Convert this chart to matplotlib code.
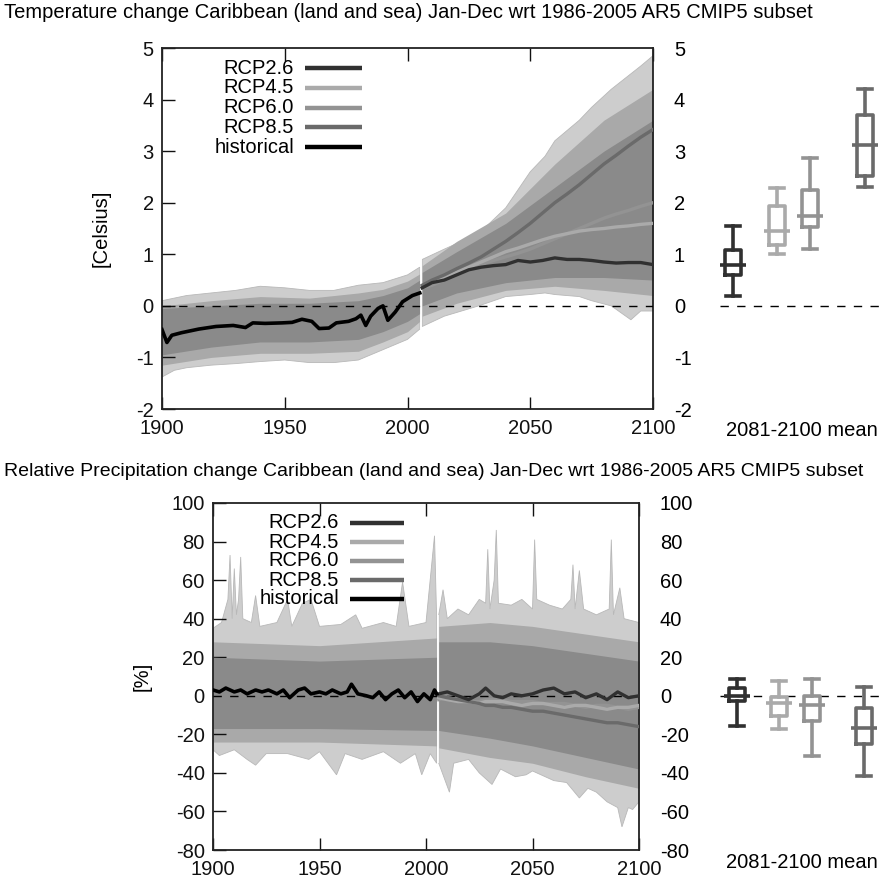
import numpy as np
import matplotlib
matplotlib.use("Agg")
import matplotlib.pyplot as plt
from matplotlib.lines import Line2D

plt.rcParams['font.family'] = ['Liberation Sans', 'DejaVu Sans']
plt.rcParams['font.size'] = 14.5
plt.rcParams['axes.unicode_minus'] = False

# ---------------- DATA ----------------
scenarios = ["RCP2.6", "RCP4.5", "RCP6.0", "RCP8.5"]
legend_labels = ["RCP2.6", "RCP4.5", "RCP6.0", "RCP8.5", "historical"]
xticks = [1900, 1950, 2000, 2050, 2100]
t_yticks = [-2, -1, 0, 1, 2, 3, 4, 5]
p_yticks = [-80, -60, -40, -20, 0, 20, 40, 60, 80, 100]

# Temperature: historical multi-model mean
T_hist_years = [1900, 1902, 1904, 1908, 1915, 1922, 1929, 1934, 1937, 1942, 1949, 1953,
                1957, 1961, 1964, 1968, 1971, 1976, 1979, 1981, 1983, 1985, 1988, 1990,
                1992, 1995, 1998, 2002, 2005]
T_hist_mean = [-0.46, -0.71, -0.57, -0.52, -0.45, -0.40, -0.38, -0.42, -0.33, -0.34, -0.33, -0.32,
               -0.26, -0.30, -0.44, -0.43, -0.33, -0.30, -0.25, -0.18, -0.38, -0.20, -0.05, 0.00,
               -0.28, -0.12, 0.08, 0.20, 0.25]
# Temperature: scenario means
T_fut_years = [2006, 2010, 2015, 2020, 2025, 2030, 2035, 2040, 2045, 2050, 2055, 2060,
               2065, 2070, 2075, 2080, 2085, 2090, 2095, 2100]
T_rcp26 = [0.35, 0.45, 0.50, 0.60, 0.70, 0.75, 0.78, 0.80, 0.88, 0.85, 0.88, 0.93,
           0.90, 0.90, 0.88, 0.85, 0.83, 0.84, 0.84, 0.80]
T_rcp45 = [0.38, 0.45, 0.55, 0.65, 0.75, 0.85, 0.95, 1.05, 1.12, 1.20, 1.28, 1.35,
           1.40, 1.45, 1.48, 1.50, 1.53, 1.55, 1.58, 1.60]
T_rcp60 = [0.35, 0.40, 0.50, 0.60, 0.70, 0.80, 0.88, 0.95, 1.02, 1.10, 1.20, 1.30,
           1.40, 1.50, 1.60, 1.70, 1.78, 1.85, 1.93, 2.00]
T_rcp85 = [0.40, 0.50, 0.60, 0.72, 0.83, 0.95, 1.10, 1.25, 1.42, 1.60, 1.80, 2.00,
           2.17, 2.35, 2.55, 2.75, 2.92, 3.10, 3.27, 3.42]
# Temperature: ensemble envelope (outer), middle and dense core
T_env_h_years = [1900, 1905, 1910, 1920, 1930, 1940, 1950, 1960, 1970, 1980, 1990, 2000, 2005]
T_env_h_lo = [-1.38, -1.25, -1.20, -1.15, -1.12, -1.08, -1.05, -1.10, -1.10, -1.05, -0.85, -0.65, -0.45]
T_env_h_hi = [0.10, 0.15, 0.20, 0.25, 0.30, 0.38, 0.35, 0.30, 0.30, 0.40, 0.45, 0.60, 0.75]
T_env_f_years = [2006, 2015, 2029, 2040, 2050, 2056, 2060, 2070, 2075, 2083, 2091, 2095, 2100]
T_env_f_lo = [-0.40, -0.20, 0.00, 0.18, 0.22, 0.25, 0.22, 0.18, 0.10, 0.00, -0.27, -0.10, -0.10]
T_env_f_hi = [0.90, 1.10, 1.40, 1.90, 2.60, 2.90, 3.20, 3.60, 3.85, 4.20, 4.50, 4.65, 4.85]
T_mid_h_years = [1900, 1920, 1940, 1960, 1980, 1990, 2000, 2005]
T_mid_h_lo = [-1.15, -1.00, -0.92, -0.92, -0.88, -0.70, -0.50, -0.30]
T_mid_h_hi = [0.00, 0.10, 0.18, 0.15, 0.25, 0.32, 0.48, 0.62]
T_mid_f_years = [2006, 2020, 2040, 2060, 2080, 2100]
T_mid_f_lo = [-0.20, 0.05, 0.30, 0.38, 0.30, 0.20]
T_mid_f_hi = [0.78, 1.25, 1.80, 2.75, 3.60, 4.20]
T_core_h_years = [1900, 1920, 1940, 1960, 1980, 1990, 2000, 2005]
T_core_h_lo = [-0.95, -0.80, -0.70, -0.70, -0.65, -0.50, -0.30, -0.15]
T_core_h_hi = [-0.05, 0.00, 0.05, 0.05, 0.10, 0.20, 0.35, 0.50]
T_core_f_years = [2006, 2020, 2040, 2060, 2080, 2100]
T_core_f_lo = [0.00, 0.25, 0.45, 0.55, 0.55, 0.50]
T_core_f_hi = [0.65, 1.05, 1.60, 2.30, 3.00, 3.60]

# Temperature 2081-2100 box stats per scenario
T_whislo = [0.20, 1.00, 1.10, 2.31]
T_q1 = [0.60, 1.18, 1.53, 2.51]
T_med = [0.80, 1.45, 1.75, 3.12]
T_q3 = [1.08, 1.94, 2.25, 3.70]
T_whishi = [1.55, 2.29, 2.86, 4.20]

# Precipitation: historical mean
P_hist_years = [1900, 1903, 1906, 1910, 1913, 1916, 1920, 1923, 1926, 1930, 1933, 1936, 1940,
                1943, 1946, 1950, 1953, 1956, 1960, 1963, 1965, 1968, 1972, 1975, 1978, 1981,
                1984, 1987, 1990, 1993, 1996, 1999, 2002, 2004, 2005]
P_hist_mean = [3, 2, 4, 2, 3, 1, 3, 2, 3, 1, 3, -1, 3,
               4, 1, 2, 1, 3, 1, 2, 6, 1, 0, -1, 2, -2,
               1, 3, -1, 2, -3, 1, -2, 3, 1]
P_fut_years = [2006, 2010, 2015, 2020, 2025, 2028, 2032, 2036, 2040, 2045, 2050, 2055, 2060,
               2065, 2070, 2075, 2080, 2085, 2090, 2095, 2100]
P_rcp26 = [1, 2, 0, -2, 1, 4, 0, -1, 1, 0, 1, 3, 4, 1, 2, -1, 1, -2, 2, -1, 0]
P_rcp45 = [-1, -2, -3, -3, -4, -3, -3, -3, -4, -5, -4, -4, -5, -6, -5, -5, -6, -7, -6, -6, -5]
P_rcp60 = [-2, -1, -2, -3, -3, -2, -2, -2, -3, -3, -3, -4, -4, -4, -5, -6, -5, -5, -6, -7, -6]
P_rcp85 = [0, -1, -2, -3, -4, -5, -5, -6, -6, -7, -8, -8, -9, -10, -11, -12, -13, -14, -14, -15, -16]
# Precipitation: ensemble envelope with visible spikes
P_env_h_hi_years = [1900, 1904, 1907, 1908, 1909, 1910, 1911, 1912, 1913, 1914, 1918, 1920, 1922,
                    1930, 1935, 1937, 1942, 1946, 1950, 1960, 1967, 1970, 1980, 1986, 1989,
                    1992, 2000, 2004, 2005]
P_env_h_hi = [35, 38, 50, 73, 40, 66, 42, 50, 72, 40, 38, 52, 36,
              38, 50, 36, 48, 50, 36, 37, 42, 35, 38, 36, 59,
              36, 38, 83, 40]
P_env_h_lo_years = [1900, 1903, 1910, 1916, 1920, 1925, 1935, 1945, 1950, 1958, 1962, 1970,
                    1980, 1988, 1995, 1998, 2002, 2005]
P_env_h_lo = [-28, -31, -28, -33, -36, -30, -30, -33, -29, -41, -30, -33,
              -29, -35, -30, -41, -30, -35]
P_env_f_hi_years = [2006, 2008, 2010, 2015, 2020, 2025, 2028, 2029, 2030, 2032, 2033, 2034, 2040,
                    2045, 2050, 2051, 2052, 2058, 2064, 2068, 2069, 2070, 2072, 2074, 2080,
                    2086, 2087, 2088, 2091, 2093, 2100]
P_env_f_hi = [42, 55, 40, 45, 42, 50, 48, 76, 45, 60, 86, 48, 47,
              50, 45, 81, 50, 47, 45, 50, 68, 45, 65, 45, 42,
              45, 81, 42, 56, 40, 38]
P_env_f_lo_years = [2006, 2011, 2013, 2020, 2025, 2031, 2035, 2042, 2047, 2050, 2060, 2066,
                    2072, 2076, 2080, 2085, 2090, 2092, 2095, 2097, 2100]
P_env_f_lo = [-35, -50, -35, -33, -40, -46, -38, -42, -41, -39, -44, -45,
              -53, -48, -50, -55, -58, -68, -58, -59, -55]
P_mid_h_years = [1900, 1950, 2005]
P_mid_h_lo = [-24, -24, -26]
P_mid_h_hi = [28, 26, 30]
P_mid_f_years = [2006, 2030, 2050, 2075, 2100]
P_mid_f_lo = [-27, -32, -35, -42, -48]
P_mid_f_hi = [36, 38, 36, 32, 28]
P_core_h_years = [1900, 1950, 2005]
P_core_h_lo = [-17, -17, -18]
P_core_h_hi = [20, 18, 20]
P_core_f_years = [2006, 2030, 2050, 2075, 2100]
P_core_f_lo = [-18, -22, -26, -32, -38]
P_core_f_hi = [28, 28, 26, 22, 18]

# Precipitation 2081-2100 box stats per scenario
P_whislo = [-15.5, -17.0, -31.0, -41.5]
P_q1 = [-2.6, -10.4, -13.0, -24.9]
P_med = [0.0, -4.0, -4.7, -16.6]
P_q3 = [4.0, -0.5, 0.0, -6.2]
P_whishi = [8.8, 7.8, 8.8, 4.7]

titles = ["Temperature change Caribbean (land and sea) Jan-Dec wrt 1986-2005 AR5 CMIP5 subset",
          "Relative Precipitation change Caribbean (land and sea) Jan-Dec wrt 1986-2005 AR5 CMIP5 subset"]
box_label = "2081-2100 mean"

# ---------------- STYLE ----------------
colors = {"RCP2.6": "#303030", "RCP4.5": "#aaaaaa", "RCP6.0": "#939393", "RCP8.5": "#6a6a6a",
          "historical": "#000000"}
outer_c = "#cdcdcd"
mid_c = "#a9a9a9"
core_c = "#8a8a8a"
FS = 14.5
W, H = 881, 882

fig = plt.figure(figsize=(W / 100, H / 100), dpi=100)


def fx(px):
    return px / W


def fy(py):
    return 1 - py / H


def make_main(l, r, t, b, ylim, yticks, pad_l, pad_r):
    ax = fig.add_axes([fx(l), fy(b), fx(r - l), (b - t) / H])
    ax.set_xlim(1900, 2100)
    ax.set_ylim(*ylim)
    ax.set_xticks(xticks)
    ax.set_yticks(yticks)
    ax.tick_params(direction='in', length=9, width=1.0, top=True, right=True,
                   labelright=False, colors="#111111", labelsize=FS)
    ax.tick_params(axis='y', pad=pad_l)
    ax.tick_params(axis='x', pad=7)
    for s in ax.spines.values():
        s.set_linewidth(1.3)
        s.set_color("#222222")
    ax2 = ax.twinx()
    ax2.set_ylim(*ylim)
    ax2.set_yticks(yticks)
    ax2.tick_params(length=0, pad=pad_r, labelsize=FS)
    for s in ax2.spines.values():
        s.set_visible(False)
    return ax


def draw_panel(ax, hy, hm, fyrs, means, envh, envf, mids, cores):
    for (xh, yh, xl, yl) in (envh, envf):
        ax.fill(np.concatenate([xh, xl[::-1]]), np.concatenate([yh, yl[::-1]]),
                color=outer_c, lw=0.6, ec="#b8b8b8", zorder=1)
    for (xc, lo, hi) in mids:
        ax.fill_between(xc, lo, hi, color=mid_c, lw=0, zorder=1.5)
    for (xc, lo, hi) in cores:
        ax.fill_between(xc, lo, hi, color=core_c, lw=0, zorder=2)
    ax.axhline(0, color="black", lw=1.0, ls=(0, (6, 6)), zorder=3)
    gap_lo = min(envh[3][-1], envf[3][0])
    gap_hi = max(envh[1][-1], envf[1][0])
    ax.vlines(2005.5, gap_lo, gap_hi, color="white", lw=1.2, zorder=4)
    for name in ["RCP6.0", "RCP4.5", "RCP8.5", "RCP2.6"]:
        ax.plot(fyrs, means[name], color=colors[name], lw=2.4, zorder=5)
    ax.plot(hy, hm, color=colors["historical"], lw=2.6, zorder=6)


def make_legend(text_right_px, line_l_px, line_r_px, y0_px, step_px):
    for i, name in enumerate(legend_labels):
        y = fy(y0_px + i * step_px)
        fig.text(fx(text_right_px), y, name, ha="right", va="center", fontsize=FS)
        fig.add_artist(Line2D([fx(line_l_px), fx(line_r_px)], [y, y], color=colors[name],
                              lw=3.2, transform=fig.transFigure, solid_capstyle="butt"))


def make_box(t, b, ylim, positions, stats):
    bx = fig.add_axes([fx(700), fy(b), fx(181), (b - t) / H])
    bx.set_xlim(700, 881)
    bx.set_ylim(*ylim)
    bx.axis("off")
    bx.hlines(0, 720, 881, color="black", lw=1.0, linestyles=[(0, (6, 6))], zorder=1)
    whislo, q1, med, q3, whishi = stats
    for i, name in enumerate(scenarios):
        st = [dict(whislo=whislo[i], q1=q1[i], med=med[i], q3=q3[i], whishi=whishi[i], fliers=[])]
        c = colors[name]
        bx.bxp(st, positions=[positions[i]], widths=16, capwidths=14, showfliers=False,
               boxprops=dict(color=c, lw=2.6), whiskerprops=dict(color=c, lw=2.6),
               capprops=dict(color=c, lw=2.6), medianprops=dict(lw=0), manage_ticks=False)
        bx.hlines(med[i], positions[i] - 13, positions[i] + 13, color=c, lw=2.6, zorder=5)
    bx.set_xlim(700, 881)
    return bx


# -------- Top panel: temperature --------
T_means = {"RCP2.6": T_rcp26, "RCP4.5": T_rcp45, "RCP6.0": T_rcp60, "RCP8.5": T_rcp85}
axT = make_main(162, 653, 48, 409, (-2, 5), t_yticks, 6, 15)
draw_panel(axT, T_hist_years, T_hist_mean, T_fut_years, T_means,
           (np.array(T_env_h_years), np.array(T_env_h_hi), np.array(T_env_h_years), np.array(T_env_h_lo)),
           (np.array(T_env_f_years), np.array(T_env_f_hi), np.array(T_env_f_years), np.array(T_env_f_lo)),
           [(T_mid_h_years, T_mid_h_lo, T_mid_h_hi), (T_mid_f_years, T_mid_f_lo, T_mid_f_hi)],
           [(T_core_h_years, T_core_h_lo, T_core_h_hi), (T_core_f_years, T_core_f_lo, T_core_f_hi)])
axT.set_ylabel("[Celsius]", fontsize=FS, labelpad=18)
make_legend(294, 305, 362, 68, 19.8)
make_box(48, 409, (-2, 5), [733, 777, 810, 865], (T_whislo, T_q1, T_med, T_q3, T_whishi))
fig.text(fx(802), fy(431), box_label, ha="center", va="center", fontsize=FS)
fig.text(fx(4), fy(13), titles[0], ha="left", va="center", fontsize=FS)

# -------- Bottom panel: precipitation --------
P_means = {"RCP2.6": P_rcp26, "RCP4.5": P_rcp45, "RCP6.0": P_rcp60, "RCP8.5": P_rcp85}
axP = make_main(213, 639, 503, 850, (-80, 100), p_yticks, 6, 15)
draw_panel(axP, P_hist_years, P_hist_mean, P_fut_years, P_means,
           (np.array(P_env_h_hi_years), np.array(P_env_h_hi), np.array(P_env_h_lo_years), np.array(P_env_h_lo)),
           (np.array(P_env_f_hi_years), np.array(P_env_f_hi), np.array(P_env_f_lo_years), np.array(P_env_f_lo)),
           [(P_mid_h_years, P_mid_h_lo, P_mid_h_hi), (P_mid_f_years, P_mid_f_lo, P_mid_f_hi)],
           [(P_core_h_years, P_core_h_lo, P_core_h_hi), (P_core_f_years, P_core_f_lo, P_core_f_hi)])
axP.set_ylabel("[%]", fontsize=FS, labelpad=14)
make_legend(339, 350, 404, 523, 19.0)
make_box(503, 850, (-80, 100), [737, 779, 812, 864], (P_whislo, P_q1, P_med, P_q3, P_whishi))
fig.text(fx(802), fy(862), box_label, ha="center", va="center", fontsize=FS)
fig.text(fx(4), fy(472), titles[1], ha="left", va="center", fontsize=14.0)

fig.savefig("out.png", dpi=100)
